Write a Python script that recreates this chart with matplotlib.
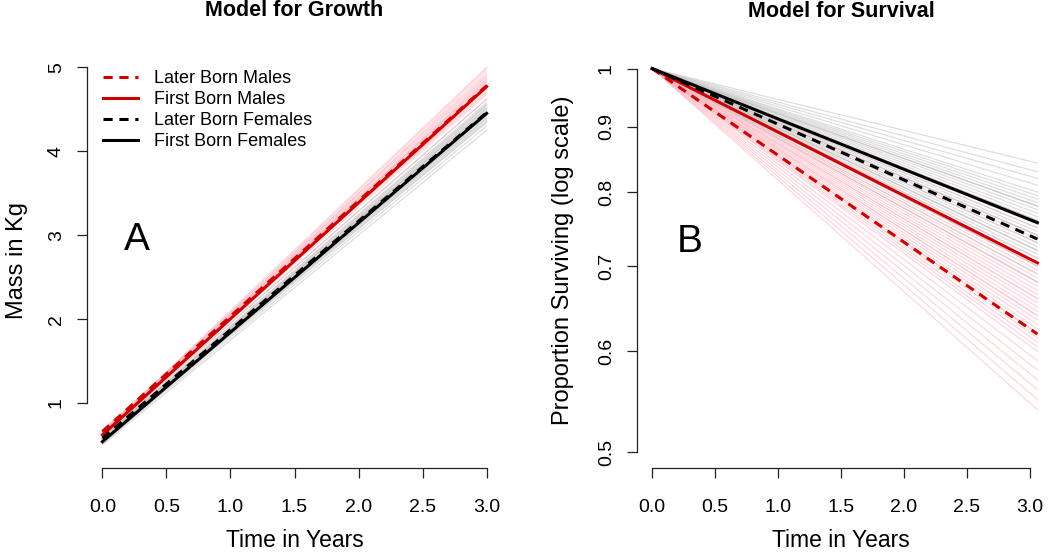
import matplotlib.pyplot as plt
import numpy as np

plt.rcParams['font.family'] = ['Liberation Sans', 'DejaVu Sans']

# ---- Panel A: growth (mass in kg at t=0 and t=3) ----
t_growth = [0.0, 3.0]
growth_main = {
    "Later Born Males":    [0.66, 4.78],
    "First Born Males":    [0.62, 4.77],
    "Later Born Females":  [0.58, 4.46],
    "First Born Females":  [0.54, 4.45],
}
# posterior draws (start, end)
pink_a_start = [0.60, 0.62, 0.64, 0.66, 0.61, 0.63, 0.65, 0.67, 0.59, 0.62,
                0.64, 0.66, 0.60, 0.63, 0.65, 0.68, 0.61, 0.64, 0.66, 0.62]
pink_a_end = [4.55, 4.62, 4.68, 4.72, 4.75, 4.78, 4.80, 4.83, 4.86, 4.88,
              4.90, 4.92, 4.95, 4.98, 5.00, 4.70, 4.76, 4.82, 4.74, 4.85]
gray_a_start = [0.50, 0.52, 0.54, 0.56, 0.58, 0.60, 0.53, 0.55, 0.57, 0.59,
                0.51, 0.54, 0.56, 0.58, 0.61, 0.55, 0.57, 0.53, 0.59, 0.56]
gray_a_end = [4.25, 4.30, 4.34, 4.37, 4.40, 4.42, 4.44, 4.46, 4.48, 4.50,
              4.52, 4.54, 4.56, 4.58, 4.62, 4.35, 4.43, 4.47, 4.51, 4.39]

# ---- Panel B: survival (proportion surviving, log scale) ----
t_surv = [0.0, 3.06]
surv_main = {
    "Later Born Males":    [1.0, 0.619],
    "First Born Males":    [1.0, 0.704],
    "Later Born Females":  [1.0, 0.735],
    "First Born Females":  [1.0, 0.757],
}
pink_b_end = [0.54, 0.55, 0.56, 0.57, 0.58, 0.59, 0.60, 0.605, 0.61, 0.615,
              0.62, 0.625, 0.63, 0.635, 0.64, 0.645, 0.65, 0.655, 0.66, 0.665,
              0.67, 0.675, 0.68, 0.685, 0.69, 0.695, 0.70, 0.705, 0.71, 0.72,
              0.73, 0.74, 0.75, 0.76, 0.78, 0.64, 0.66, 0.68, 0.62, 0.70]
gray_b_end = [0.68, 0.69, 0.70, 0.71, 0.715, 0.72, 0.725, 0.73, 0.735, 0.74,
              0.745, 0.75, 0.755, 0.76, 0.765, 0.77, 0.775, 0.78, 0.785, 0.79,
              0.795, 0.80, 0.81, 0.82, 0.83, 0.843, 0.74, 0.76, 0.72, 0.78]

styles = {
    "Later Born Males":    dict(color='#CC0000', ls=(0, (3.0, 2.2))),
    "First Born Males":    dict(color='#CC0000', ls='-'),
    "Later Born Females":  dict(color='black', ls=(0, (3.0, 2.2))),
    "First Born Females":  dict(color='black', ls='-'),
}
PINK = '#FFB6C1'
GREY = '#C4C4C4'

fig = plt.figure(figsize=(10.5, 5.53), dpi=100)
axA = fig.add_axes([0.0829, 0.1537, 0.3952, 0.752])
axB = fig.add_axes([0.6067, 0.1537, 0.3885, 0.750])


def r_style(ax):
    for s in ['top', 'right']:
        ax.spines[s].set_visible(False)
    for s in ['left', 'bottom']:
        ax.spines[s].set_linewidth(0.9)
        ax.spines[s].set_color('#222222')
    ax.tick_params(direction='out', length=7, width=0.9, color='#222222',
                   labelsize=14)
    ax.tick_params(axis='x', pad=15)
    ax.tick_params(axis='y', pad=9)
    for lab in ax.get_yticklabels():
        lab.set_rotation(90)
        lab.set_va('center')


# Panel A
for s0, s1 in zip(pink_a_start, pink_a_end):
    axA.plot(t_growth, [s0, s1], color=PINK, lw=0.8, alpha=0.6)
for s0, s1 in zip(gray_a_start, gray_a_end):
    axA.plot(t_growth, [s0, s1], color=GREY, lw=0.8, alpha=0.6)
for name, vals in growth_main.items():
    axA.plot(t_growth, vals, color=styles[name]['color'], ls=styles[name]['ls'],
             lw=2.2, label=name)

axA.set_xlim(-0.12, 3.12)
axA.set_ylim(0.226, 5.18)
axA.set_xticks([0.0, 0.5, 1.0, 1.5, 2.0, 2.5, 3.0])
axA.set_xticklabels(['0.0', '0.5', '1.0', '1.5', '2.0', '2.5', '3.0'])
axA.set_yticks([1, 2, 3, 4, 5])
axA.spines['left'].set_bounds(1, 5)
axA.spines['bottom'].set_bounds(0, 3)
r_style(axA)
axA.set_xlabel("Time in Years", fontsize=16.5, labelpad=10)
axA.set_ylabel("Mass in Kg", fontsize=17, labelpad=14)
axA.set_title("Model for Growth", fontsize=15.5, fontweight='bold', pad=26)
axA.text(0.27, 2.94, "A", fontsize=28, ha='center', va='center')
axA.legend(loc='upper left', bbox_to_anchor=(0.0, 0.995), frameon=False,
           fontsize=13, handlelength=1.9, handletextpad=0.9, labelspacing=0.22)

# Panel B
for e in pink_b_end:
    axB.plot(t_surv, [1.0, e], color=PINK, lw=0.8, alpha=0.6)
for e in gray_b_end:
    axB.plot(t_surv, [1.0, e], color=GREY, lw=0.8, alpha=0.6)
for name, vals in surv_main.items():
    axB.plot(t_surv, vals, color=styles[name]['color'], ls=styles[name]['ls'],
             lw=2.2)

axB.set_yscale('log')
axB.set_xlim(-0.12, 3.12)
axB.set_ylim(0.486, 1.028)
axB.set_xticks([0.0, 0.5, 1.0, 1.5, 2.0, 2.5, 3.0])
axB.set_xticklabels(['0.0', '0.5', '1.0', '1.5', '2.0', '2.5', '3.0'])
axB.set_yticks([0.5, 0.6, 0.7, 0.8, 0.9, 1.0])
axB.set_yticklabels(['0.5', '0.6', '0.7', '0.8', '0.9', '1'])
axB.yaxis.set_minor_locator(plt.NullLocator())
axB.spines['left'].set_bounds(0.5, 1.0)
axB.spines['bottom'].set_bounds(0, 3)
r_style(axB)
axB.set_xlabel("Time in Years", fontsize=16.5, labelpad=10)
axB.set_ylabel("Proportion Surviving (log scale)", fontsize=17, labelpad=17)
axB.set_title("Model for Survival", fontsize=15.5, fontweight='bold', pad=26)
axB.text(0.30, 0.731, "B", fontsize=28, ha='center', va='center')

plt.savefig("out.png", dpi=100)
